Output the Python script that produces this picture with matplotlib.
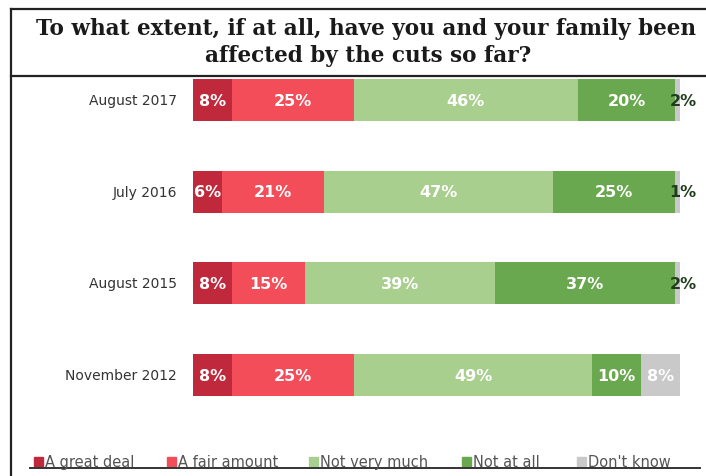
import matplotlib
matplotlib.use("Agg")
import matplotlib.pyplot as plt
from matplotlib.lines import Line2D
from matplotlib.patches import Rectangle

# survey waves, top to bottom
waves = ["August 2017", "July 2016", "August 2015", "November 2012"]
categories = ["A great deal", "A fair amount", "Not very much", "Not at all", "Don't know"]
great_deal = [8, 6, 8, 8]
fair_amount = [25, 21, 15, 25]
not_very_much = [46, 47, 39, 49]
not_at_all = [20, 25, 37, 10]
dont_know = [2, 1, 2, 8]

colors = ["#c0283c", "#f24d59", "#a9cf8f", "#6aa84f", "#c9c9c9"]
series = [great_deal, fair_amount, not_very_much, not_at_all, dont_know]

fig = plt.figure(figsize=(7.06, 4.77), dpi=100)
W, H = 706, 477


def fx(px):
    return px / W


def fy(py):
    return 1 - py / H


# frame around title and chart
fig.add_artist(Line2D([fx(11), fx(706)], [fy(10), fy(10)], color="#222222", lw=1.6))
fig.add_artist(Line2D([fx(11), fx(706)], [fy(77), fy(77)], color="#222222", lw=1.6))
fig.add_artist(Line2D([fx(11), fx(11)], [fy(10), fy(477)], color="#222222", lw=1.6))
fig.add_artist(Line2D([fx(30), fx(700)], [fy(469), fy(469)], color="#333333", lw=1.4))

fig.text(fx(366), fy(29), "To what extent, if at all, have you and your family been",
         ha="center", va="center", fontsize=15.5, fontweight="bold",
         family="DejaVu Serif", color="#1a1a1a")
fig.text(fx(368), fy(56), "affected by the cuts so far?",
         ha="center", va="center", fontsize=15.5, fontweight="bold",
         family="DejaVu Serif", color="#1a1a1a")

ax = fig.add_axes([fx(193), fy(420), fx(680) - fx(193), (420 - 78) / H])
ax.set_xlim(0, 100)
ax.set_ylim(3.48, -0.251)
ax.axis("off")

rows = list(range(len(waves)))
bar_h = 0.46
left = [0] * len(waves)
for k, (vals, col) in enumerate(zip(series, colors)):
    ax.barh(rows, vals, left=left, height=bar_h, color=col, edgecolor="none")
    for i, v in enumerate(vals):
        cx = left[i] + v / 2
        if k == 4 and v < 5:
            # tiny segments get their label just past the bar end
            ax.text(100.6, i, f"{v}%", ha="center", va="center", fontsize=11.5,
                    fontweight="bold", color="#1f3d1a", clip_on=False)
        else:
            ax.text(cx, i, f"{v}%", ha="center", va="center", fontsize=11.5,
                    fontweight="bold", color="white")
    left = [a + b for a, b in zip(left, vals)]

for i, w in enumerate(waves):
    ax.text(-3.3, i, w, ha="right", va="center", fontsize=10, color="#333333")

# legend row
leg_x = [34, 167, 309, 462, 577]
for x, lab, col in zip(leg_x, categories, colors):
    fig.add_artist(Rectangle((fx(x), fy(467)), 9 / W, 9 / H, color=col,
                             transform=fig.transFigure))
    fig.text(fx(x + 11), fy(463), lab, ha="left", va="center", fontsize=10.5,
             color="#555555")

fig.savefig("out.png", dpi=100, facecolor="white")
